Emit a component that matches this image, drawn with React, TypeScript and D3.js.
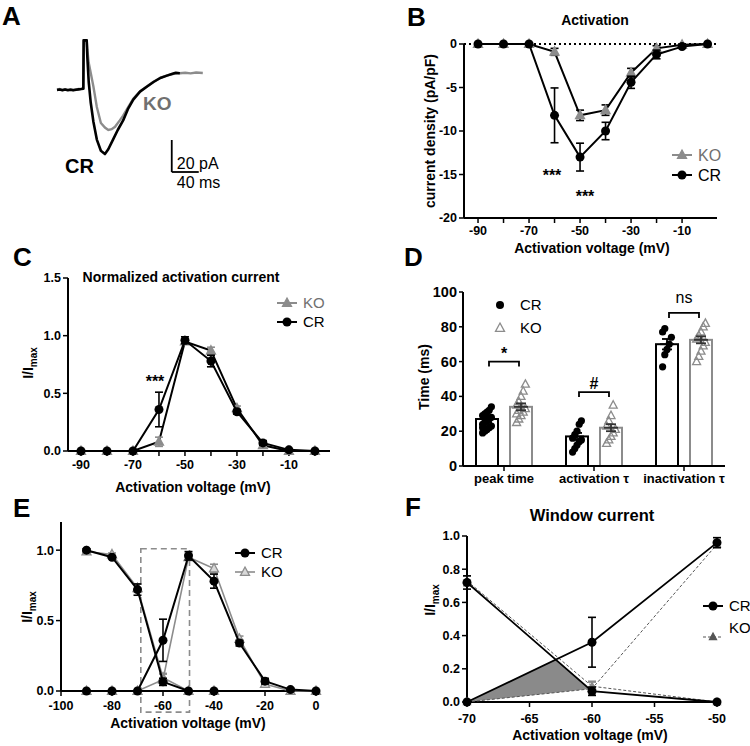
import React from "react";
import * as d3 from "d3";

const FONT = "'Liberation Sans', Arial, Helvetica, sans-serif";
const GRAY = "#8c8c8c";
const GRAY_TXT = "#707070";

// ---------- Panel A: example traces (time in ms, current in pA) ----------
const crTraceT = [0, 4, 8, 12, 16, 20, 24, 28, 32, 36, 39, 39.5, 44, 45, 47, 50, 54, 59, 65, 71, 76, 83, 90, 98, 105, 113, 123, 133, 143, 153, 163, 170, 176, 182];
const crTraceI = [0, 0.3, -0.2, 0.3, -0.1, 0.2, -0.2, 0.2, 0.4, 0.6, 0.8, 31, 31, 20, 5, -8, -20, -31, -38, -40, -37, -31, -25, -19, -12, -6, -1, 2, 5, 7.5, 9, 10, 10.8, 10.5];
const koTraceT = [0, 4, 8, 12, 16, 20, 24, 28, 32, 36, 39, 39.5, 44, 45, 47, 54, 59, 65, 71, 76, 81, 86, 93, 98, 105, 113, 123, 133, 143, 153, 163, 173, 182, 190, 198, 206, 216];
const koTraceI = [0.3, 0.6, 0, 0.5, 0.1, 0.5, 0, 0.4, 0.6, 0.8, 1, 31, 31, 25, 17, 2, -10.6, -20.6, -23.5, -25, -24.5, -23, -19, -16, -11, -5.5, -0.8, 2.2, 5.2, 7.6, 9.1, 10.1, 10.5, 10.8, 10.4, 10.9, 10.6];
const scaleBarMs = 40;
const scaleBarPA = 20;

// ---------- Panel B / C / E: I-V data ----------
const volts = [-90, -80, -70, -60, -50, -40, -30, -20, -10, 0];
const crDensity = [0, 0, 0, -8.2, -13, -10, -4.4, -1.2, -0.3, 0];
const crDensityErr = [0, 0, 0, 3.15, 1.6, 1.0, 0.7, 0.5, 0.1, 0];
const koDensity = [0, 0, 0, -0.9, -8.2, -7.6, -3.3, -0.5, -0.1, 0];
const koDensityErr = [0, 0, 0, 0.4, 0.6, 0.6, 0.5, 0.3, 0.1, 0];

const crAct = [0, 0, 0, 0.36, 0.96, 0.78, 0.34, 0.07, 0.01, 0];
const crActErr = [0, 0, 0, 0.15, 0.03, 0.05, 0.02, 0.02, 0.01, 0];
const koAct = [0, 0, 0, 0.08, 0.95, 0.87, 0.37, 0.05, 0, 0];
const koActErr = [0, 0, 0, 0.04, 0.02, 0.03, 0.02, 0.01, 0, 0];

const inactVolts = [-90, -80, -70, -60, -50, -40];
const crInact = [1.0, 0.95, 0.72, 0.065, 0, 0];
const crInactErr = [0.01, 0.01, 0.04, 0.025, 0, 0];
const koInact = [0.99, 0.97, 0.73, 0.095, 0, 0];
const koInactErr = [0.01, 0.01, 0.03, 0.03, 0, 0];

// ---------- Panel D: kinetics ----------
const dCats = ["peak time", "activation τ", "inactivation τ"];
const crMeans = [27, 17, 70];
const crSem = [2, 2, 3];
const koMeans = [34, 22, 72.5];
const koSem = [2, 2, 2];
const crPoints = [
  [19, 20, 21, 22, 23, 24, 25, 26, 27, 28, 29, 30, 31, 32, 34, 22, 25, 28],
  [8, 10, 12, 14, 15, 16, 18, 20, 24, 26],
  [57, 64, 67, 70, 74, 77, 79],
];
const koPoints = [
  [25, 27, 29, 31, 33, 35, 37, 40, 43, 47, 30, 32, 34],
  [13, 15, 17, 19, 21, 23, 26, 29, 35],
  [60, 63, 66, 69, 71, 73, 75, 77, 80, 82],
];
const sigLabels = ["*", "#", "ns"];
const sigLevels = [60, 42.5, 88];

// ---------- Panel E: window box (mV, I/Imax) ----------
const windowBoxV = [-68.7, -49.6];
const windowBoxI = [-0.15, 1.01];

// ---------- Panel F ----------
const fVolts = [-70, -60, -50];

// ---------- helpers ----------
function Mark({ x, y, kind, color, size, fill }: any) {
  if (kind === "circle") return <circle cx={x} cy={y} r={size} fill={color} />;
  const s = size;
  const d = `M${x},${y - s * 1.1} L${x + s},${y + s * 0.75} L${x - s},${y + s * 0.75} Z`;
  return <path d={d} fill={fill ?? color} stroke={color} strokeWidth={1.3} />;
}

function Series({ xs, ys, errs, x, y, color, kind, size = 4.5, width = 2, dash, cap = 4, errColor, markFill, lineColor }: any) {
  const line = d3
    .line<number>()
    .x((_, i) => x(xs[i]))
    .y((d) => y(d));
  const ec = errColor ?? color;
  return (
    <g>
      <path d={line(ys) || ""} fill="none" stroke={lineColor ?? color} strokeWidth={width} strokeDasharray={dash} />
      {errs &&
        ys.map((v: number, i: number) =>
          errs[i] > 0 ? (
            <g key={"e" + i} stroke={ec} strokeWidth={1.6}>
              <line x1={x(xs[i])} x2={x(xs[i])} y1={y(v - errs[i])} y2={y(v + errs[i])} />
              <line x1={x(xs[i]) - cap} x2={x(xs[i]) + cap} y1={y(v - errs[i])} y2={y(v - errs[i])} />
              <line x1={x(xs[i]) - cap} x2={x(xs[i]) + cap} y1={y(v + errs[i])} y2={y(v + errs[i])} />
            </g>
          ) : null
        )}
      {ys.map((v: number, i: number) => (
        <Mark key={"m" + i} x={x(xs[i])} y={y(v)} kind={kind} color={color} size={size} fill={markFill} />
      ))}
    </g>
  );
}

function XAxis({ scale, y, ticks, labels, fmt, fs = 12.5, tl = 5, labelY, extent }: any) {
  const [r0, r1] = extent ?? scale.range();
  return (
    <g>
      <line x1={r0} x2={r1} y1={y} y2={y} stroke="#000" strokeWidth={2} />
      {ticks.map((t: any) => (
        <line key={"t" + t} x1={scale(t)} x2={scale(t)} y1={y} y2={y + tl} stroke="#000" strokeWidth={1.5} />
      ))}
      {labels.map((t: any) => (
        <text key={"l" + t} x={scale(t)} y={labelY} textAnchor="middle" fontSize={fs} fontWeight="bold">
          {fmt(t)}
        </text>
      ))}
    </g>
  );
}

function YAxis({ scale, x, ticks, fmt, fs = 12.5, tl = 5, extent }: any) {
  const [r0, r1] = extent ?? scale.range();
  return (
    <g>
      <line x1={x} x2={x} y1={r0} y2={r1} stroke="#000" strokeWidth={2} />
      {ticks.map((t: any) => (
        <g key={"t" + t}>
          <line x1={x - tl} x2={x} y1={scale(t)} y2={scale(t)} stroke="#000" strokeWidth={1.5} />
          <text x={x - tl - 2} y={scale(t)} dy="0.35em" textAnchor="end" fontSize={fs} fontWeight="bold">
            {fmt(t)}
          </text>
        </g>
      ))}
    </g>
  );
}

function ImaxLabel({ x, y }: any) {
  return (
    <text transform={`translate(${x},${y}) rotate(-90)`} textAnchor="middle" fontSize={14} fontWeight="bold">
      I/I
      <tspan fontSize={10} dy={4}>
        max
      </tspan>
    </text>
  );
}

function Letter({ x, y, c }: any) {
  return (
    <text x={x} y={y} fontSize={26} fontWeight="bold">
      {c}
    </text>
  );
}

function LegendItem({ x, y, label, color, kind, textColor, dash, size = 4.5, markFill, width = 2, textDy = 0, fs = 15 }: any) {
  return (
    <g>
      <line x1={x} x2={x + 20} y1={y} y2={y} stroke={color} strokeWidth={width} strokeDasharray={dash} />
      <Mark x={x + 10} y={y} kind={kind} color={color} size={size} fill={markFill} />
      <text x={x + 26} y={y + textDy} dy="0.36em" fontSize={fs} fill={textColor ?? "#000"}>
        {label}
      </text>
    </g>
  );
}

const fmtInt = (d: number) => String(d);
const fmt1 = (d: number) => d.toFixed(1);
const oddTen = (v: number) => Math.abs(v / 10) % 2 === 1;

// ---------- Panels ----------
function PanelA() {
  const x = d3.scaleLinear().domain([0, 216]).range([57, 57 + 216 * 0.675]);
  const y = d3.scaleLinear().domain([-40, 31.25]).range([154, 40]);
  const mk = (ts: number[]) =>
    d3
      .line<number>()
      .x((_, i) => x(ts[i]))
      .y((d) => y(d));
  const barT = 170;
  const barI = -51.25;
  return (
    <g>
      <Letter x={2} y={25} c="A" />
      <path d={mk(koTraceT)(koTraceI) || ""} fill="none" stroke={GRAY} strokeWidth={2.4} />
      <path d={mk(crTraceT)(crTraceI) || ""} fill="none" stroke="#000" strokeWidth={2.6} strokeLinejoin="round" />
      <text x={143} y={110} fontSize={19} fontWeight="bold" fill={GRAY_TXT}>KO</text>
      <text x={65} y={173} fontSize={20} fontWeight="bold">CR</text>
      <line x1={x(barT)} x2={x(barT)} y1={y(barI)} y2={y(barI + scaleBarPA)} stroke="#000" strokeWidth={1.8} />
      <line x1={x(barT)} x2={x(barT + scaleBarMs)} y1={y(barI)} y2={y(barI)} stroke="#000" strokeWidth={1.8} />
      <text x={x(barT) + 5} y={169} fontSize={16}>20 pA</text>
      <text x={x(barT) + 5} y={188} fontSize={16}>40 ms</text>
    </g>
  );
}

function PanelB() {
  const x = d3.scaleLinear().domain([-95.5, 3.7]).range([464, 717]);
  const y = d3.scaleLinear().domain([-20, 0]).range([218, 44]);
  return (
    <g>
      <Letter x={407} y={26} c="B" />
      <text x={595} y={25} textAnchor="middle" fontSize={14} fontWeight="bold">Activation</text>
      <line x1={x.range()[0]} x2={x.range()[1]} y1={y(0)} y2={y(0)} stroke="#000" strokeWidth={1.8} strokeDasharray="2,3" />
      <YAxis scale={y} x={464} ticks={[0, -5, -10, -15, -20]} fmt={fmtInt} />
      <XAxis scale={x} y={218} ticks={volts.slice(0, 9)} labels={volts.filter(oddTen)} fmt={fmtInt} labelY={235} />
      <Series xs={volts} ys={koDensity} errs={koDensityErr} x={x} y={y} color={GRAY} lineColor="#000" errColor="#000" kind="tri" size={4.5} />
      <Series xs={volts} ys={crDensity} errs={crDensityErr} x={x} y={y} color="#000" kind="circle" />
      <text x={552} y={181} textAnchor="middle" fontSize={16} fontWeight="bold">***</text>
      <text x={585} y={202} textAnchor="middle" fontSize={16} fontWeight="bold">***</text>
      <LegendItem x={672} y={155} label="KO" color={GRAY} kind="tri" textColor={GRAY_TXT} fs={16} />
      <LegendItem x={672} y={175} label="CR" color="#000" kind="circle" fs={16} />
      <text transform="translate(435,131) rotate(-90)" textAnchor="middle" fontSize={14} fontWeight="bold">
        current density (pA/pF)
      </text>
      <text x={592} y={253} textAnchor="middle" fontSize={14} fontWeight="bold">Activation voltage (mV)</text>
    </g>
  );
}

function PanelC() {
  const x = d3.scaleLinear().domain([-95, 5.8]).range([68, 330]);
  const y = d3.scaleLinear().domain([0, 1.5]).range([451, 278]);
  return (
    <g>
      <Letter x={13} y={266} c="C" />
      <text x={181} y={282} textAnchor="middle" fontSize={14} fontWeight="bold">Normalized activation current</text>
      <YAxis scale={y} x={68} ticks={[0, 0.5, 1.0, 1.5]} fmt={fmt1} />
      <XAxis scale={x} y={451} ticks={volts} labels={volts.filter(oddTen)} fmt={fmtInt} labelY={469} />
      <Series xs={volts} ys={koAct} errs={koActErr} x={x} y={y} color={GRAY} lineColor="#000" kind="tri" size={4.5} />
      <Series xs={volts} ys={crAct} errs={crActErr} x={x} y={y} color="#000" kind="circle" />
      <text x={155} y={387} textAnchor="middle" fontSize={16} fontWeight="bold">***</text>
      <LegendItem x={277} y={303} label="KO" color={GRAY} kind="tri" textColor={GRAY_TXT} />
      <LegendItem x={277} y={322} label="CR" color="#000" kind="circle" />
      <ImaxLabel x={33} y={363} />
      <text x={193} y={492} textAnchor="middle" fontSize={14} fontWeight="bold">Activation voltage (mV)</text>
    </g>
  );
}

function PanelD() {
  const y = d3.scaleLinear().domain([0, 100]).range([466, 292]);
  const cx = d3.scalePoint<string>().domain(dCats).range([504, 684]);
  const off = 17;
  const bw = 22;
  const jit = (i: number) => ((i % 5) - 2) * 2.2;
  return (
    <g>
      <Letter x={404} y={266} c="D" />
      <YAxis scale={y} x={463} ticks={[0, 20, 40, 60, 80, 100]} fmt={fmtInt} fs={14.5} tl={4} />
      {dCats.map((c, k) => {
        const c0 = (cx(c) as number) - off;
        const c1 = (cx(c) as number) + off;
        return (
          <g key={c}>
            <rect x={c0 - bw / 2} y={y(crMeans[k])} width={bw} height={y(0) - y(crMeans[k])} fill="#fff" stroke="#000" strokeWidth={2} />
            <rect x={c1 - bw / 2} y={y(koMeans[k])} width={bw} height={y(0) - y(koMeans[k])} fill="#fff" stroke={GRAY} strokeWidth={2} />
            {crPoints[k].map((v, i) => (
              <circle key={"c" + i} cx={c0 + jit(i)} cy={y(v)} r={3.6} fill="#000" />
            ))}
            {koPoints[k].map((v, i) => (
              <Mark key={"k" + i} x={c1 + jit(i)} y={y(v)} kind="tri" color={GRAY} size={4} fill="none" />
            ))}
            {[
              [c0, crMeans[k], crSem[k], "#000"],
              [c1, koMeans[k], koSem[k], "#333"],
            ].map(([xx, m, s, col]: any, j) => (
              <g key={"eb" + j} stroke={col} strokeWidth={1.8}>
                <line x1={xx} x2={xx} y1={y(m - s)} y2={y(m + s)} />
                <line x1={xx - 5} x2={xx + 5} y1={y(m + s)} y2={y(m + s)} />
                <line x1={xx - 5} x2={xx + 5} y1={y(m - s)} y2={y(m - s)} />
                <line x1={xx - 7} x2={xx + 7} y1={y(m)} y2={y(m)} />
              </g>
            ))}
            <path
              d={`M${c0 + 2},${y(sigLevels[k]) + 5} V${y(sigLevels[k])} H${c1 - 2} V${y(sigLevels[k]) + 5}`}
              fill="none"
              stroke="#000"
              strokeWidth={1.8}
            />
            <text x={cx(c)} y={y(sigLevels[k]) - (k === 2 ? 10 : 3)} textAnchor="middle" fontSize={16} fontWeight={k === 2 ? "normal" : "bold"}>
              {sigLabels[k]}
            </text>
          </g>
        );
      })}
      <XAxis scale={(c: string) => cx(c)} y={466} ticks={dCats} labels={dCats} fmt={(d: string) => d} fs={13} labelY={483} extent={[463, 725]} />
      <circle cx={500} cy={305} r={4} fill="#000" />
      <text x={520} y={305} dy="0.36em" fontSize={15}>CR</text>
      <Mark x={500} y={328} kind="tri" color={GRAY} size={4.5} fill="#fff" />
      <text x={520} y={328} dy="0.36em" fontSize={15}>KO</text>
      <text transform="translate(429,377) rotate(-90)" textAnchor="middle" fontSize={14} fontWeight="bold">Time (ms)</text>
    </g>
  );
}

function PanelE() {
  const x = d3.scaleLinear().domain([-100, 0]).range([61, 316]);
  const y = d3.scaleLinear().domain([0, 1.2]).range([691, 522]);
  const xt = [-100, -80, -60, -40, -20, 0];
  return (
    <g>
      <Letter x={13} y={517} c="E" />
      <rect
        x={x(windowBoxV[0])}
        y={y(windowBoxI[1])}
        width={x(windowBoxV[1]) - x(windowBoxV[0])}
        height={y(windowBoxI[0]) - y(windowBoxI[1])}
        fill="none"
        stroke={GRAY}
        strokeWidth={1.6}
        strokeDasharray="6,4"
      />
      <YAxis scale={y} x={61} ticks={[0, 0.5, 1.0]} fmt={fmt1} />
      <XAxis scale={x} y={691} ticks={xt} labels={xt} fmt={fmtInt} labelY={710} />
      <Series xs={inactVolts} ys={koInact} errs={koInactErr} x={x} y={y} color={GRAY} kind="tri" size={4.5} width={1.6} markFill="#d8d8d8" />
      <Series xs={volts} ys={koAct} errs={koActErr} x={x} y={y} color={GRAY} kind="tri" size={4.5} width={1.6} markFill="#d8d8d8" />
      <Series xs={inactVolts} ys={crInact} errs={crInactErr} x={x} y={y} color="#000" kind="circle" />
      <Series xs={volts} ys={crAct} errs={crActErr} x={x} y={y} color="#000" kind="circle" />
      <LegendItem x={235} y={553} label="CR" color="#000" kind="circle" />
      <LegendItem x={235} y={572} label="KO" color={GRAY} kind="tri" markFill="#d8d8d8" width={1.6} />
      <ImaxLabel x={32} y={607} />
      <text x={188} y={728} textAnchor="middle" fontSize={14} fontWeight="bold">Activation voltage (mV)</text>
    </g>
  );
}

function intersect(a: number[], b: number[], c: number[], d: number[]) {
  const den = (a[0] - b[0]) * (c[1] - d[1]) - (a[1] - b[1]) * (c[0] - d[0]);
  const t = ((a[0] - c[0]) * (c[1] - d[1]) - (a[1] - c[1]) * (c[0] - d[0])) / den;
  return [a[0] + t * (b[0] - a[0]), a[1] + t * (b[1] - a[1])];
}

function PanelF() {
  const x = d3.scaleLinear().domain([-70, -50]).range([467, 717]);
  const y = d3.scaleLinear().domain([0, 1]).range([702, 536]);
  const pick = (vs: number[], arr: number[]) => fVolts.map((v) => arr[vs.indexOf(v)]);
  const crA = pick(volts, crAct);
  const crAe = pick(volts, crActErr);
  const koA = pick(volts, koAct);
  const koAe = pick(volts, koActErr);
  const crI = pick(inactVolts, crInact);
  const crIe = pick(inactVolts, crInactErr);
  const koI = pick(inactVolts, koInact);
  const koIe = pick(inactVolts, koInactErr);
  const p0 = [fVolts[0], koA[0]];
  const p1 = intersect([fVolts[0], crA[0]], [fVolts[1], crA[1]], [fVolts[0], crI[0]], [fVolts[1], crI[1]]);
  const p2 = intersect([fVolts[0], crI[0]], [fVolts[1], crI[1]], [fVolts[0], koA[0]], [fVolts[1], koA[1]]);
  const area = [p0, p1, p2].map((p) => `${x(p[0])},${y(p[1])}`).join(" ");
  const yt = [0, 0.2, 0.4, 0.6, 0.8, 1.0];
  const xt = [-70, -65, -60, -55, -50];
  return (
    <g>
      <Letter x={405} y={516} c="F" />
      <text x={592} y={521} textAnchor="middle" fontSize={16.5} fontWeight="bold">Window current</text>
      <polygon points={area} fill="#8a8a8a" stroke="none" />
      <YAxis scale={y} x={467} ticks={yt} fmt={fmt1} />
      <XAxis scale={x} y={702} ticks={xt} labels={xt} fmt={fmtInt} labelY={723} />
      <Series xs={fVolts} ys={koI} errs={koIe} x={x} y={y} color={GRAY} lineColor="#555" kind="tri" size={3.5} width={1} dash="3,2" />
      <Series xs={fVolts} ys={koA} errs={koAe} x={x} y={y} color={GRAY} lineColor="#555" kind="tri" size={3.5} width={1} dash="3,2" />
      <Series xs={fVolts} ys={crI} errs={crIe} x={x} y={y} color="#000" kind="circle" width={1.8} />
      <Series xs={fVolts} ys={crA} errs={crAe} x={x} y={y} color="#000" kind="circle" width={1.8} />
      <LegendItem x={703} y={606} label="CR" color="#000" kind="circle" />
      <LegendItem x={703} y={637} label="KO" color="#555" kind="tri" size={3.5} width={1} dash="3,2" textDy={-9} />
      <ImaxLabel x={435} y={600} />
      <text x={590} y={740} textAnchor="middle" fontSize={14} fontWeight="bold">Activation voltage (mV)</text>
    </g>
  );
}

export default function App() {
  return (
    <svg
      width={750}
      height={746}
      viewBox="0 0 750 746"
      style={{ position: "absolute", left: 0, top: 0, background: "#fff" }}
      fontFamily={FONT}
    >
      <rect width={750} height={746} fill="#fff" />
      <PanelA />
      <PanelB />
      <PanelC />
      <PanelD />
      <PanelE />
      <PanelF />
    </svg>
  );
}
